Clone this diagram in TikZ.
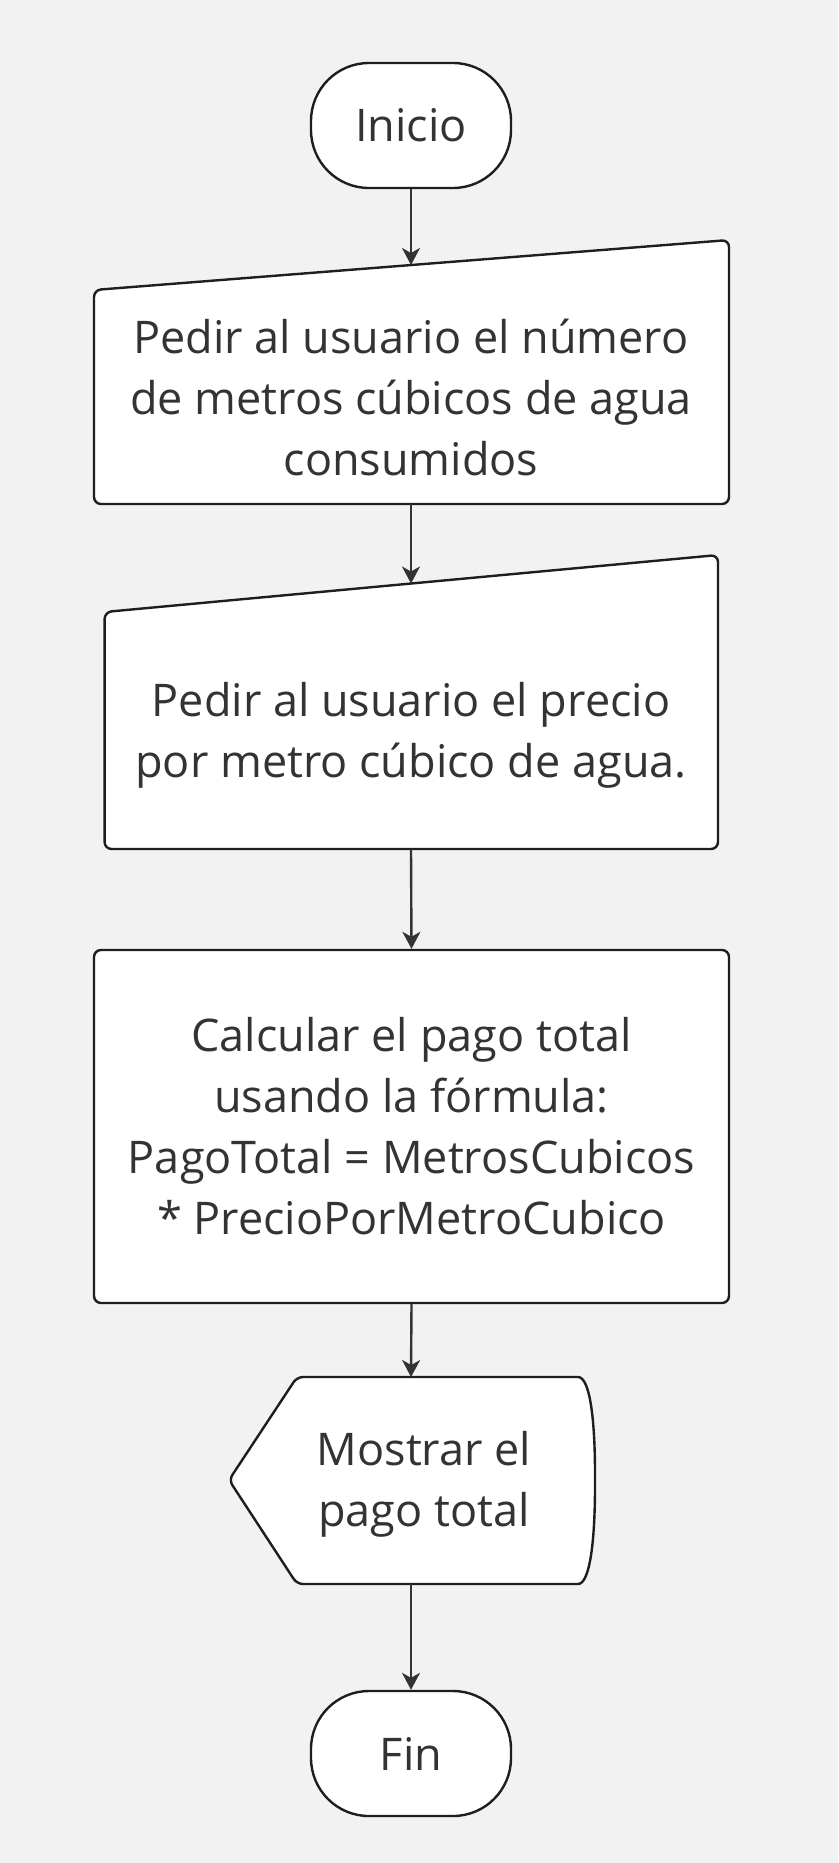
\documentclass[tikz,border=0pt]{standalone}
\usepackage{fontspec}
\setmainfont{Open Sans}
\usetikzlibrary{arrows.meta}
\definecolor{fondo}{HTML}{F2F2F2}
\definecolor{borde}{HTML}{1E1E1E}
\definecolor{texto}{HTML}{333333}
\tikzset{
  forma/.style={draw=borde,line width=2.4pt,fill=white},
  txt/.style={text=texto,align=center,font=\fontsize{45}{61}\selectfont,inner sep=0pt},
  terminal/.style={forma,txt,rectangle,rounded corners=58pt,minimum width=200pt,minimum height=125pt},
  proceso/.style={forma,txt,rectangle,rounded corners=7pt,minimum width=635pt,minimum height=353pt},
  flecha/.style={draw=texto,line width=2.4pt,-{Stealth[length=17pt,width=18pt,inset=5pt]}}
}
\begin{document}
\begin{tikzpicture}[x=1pt,y=-1pt]
\useasboundingbox[fill=fondo] (0,0) rectangle (838,1863);

% inicio y fin
\node[terminal] (inicio) at (411,125.5) {Inicio};
\node[terminal] (fin) at (411,1753.5) {Fin};

% entradas manuales
\draw[forma,rounded corners=7pt] (94,290) -- (729,240) -- (729,504) -- (94,504) -- cycle;
\coordinate (pedirm-n) at (411,265);
\coordinate (pedirm-s) at (411,504);
\node[txt] (pedirm) at (411,397.5) {Pedir al usuario el número\\de metros cúbicos de agua\\consumidos};

\draw[forma,rounded corners=7pt] (104.6,612) -- (718,555) -- (718,849) -- (104.6,849) -- cycle;
\coordinate (pedirp-n) at (411,583.5);
\coordinate (pedirp-s) at (411,849);
\node[txt] (pedirp) at (411,735.5) {Pedir al usuario el precio\\por metro cúbico de agua.};

% proceso
\node[proceso] (calc) at (411.5,1126.5) {Calcular el pago total\\usando la fórmula:\\PagoTotal = MetrosCubicos\\* PrecioPorMetroCubico};

% pantalla
\draw[forma,rounded corners=6pt] (572,1377) .. controls (590,1377) and (595,1420) .. (595,1480)
  .. controls (595,1540) and (590,1584) .. (572,1584) -- (297,1584) -- (229,1480) -- (297,1377) -- cycle;
\coordinate (mostrar-n) at (411,1377);
\coordinate (mostrar-s) at (411,1584);
\node[txt] (mostrar) at (424,1484.5) {Mostrar el\\pago total};

% conectores
\draw[flecha] (inicio.south) -- (pedirm-n);
\draw[flecha] (pedirm-s) -- (pedirp-n);
\draw[flecha] (pedirp-s) -- (calc.north);
\draw[flecha] (calc.south) -- (mostrar-n);
\draw[flecha] (mostrar-s) -- (fin.north);
\end{tikzpicture}
\end{document}
